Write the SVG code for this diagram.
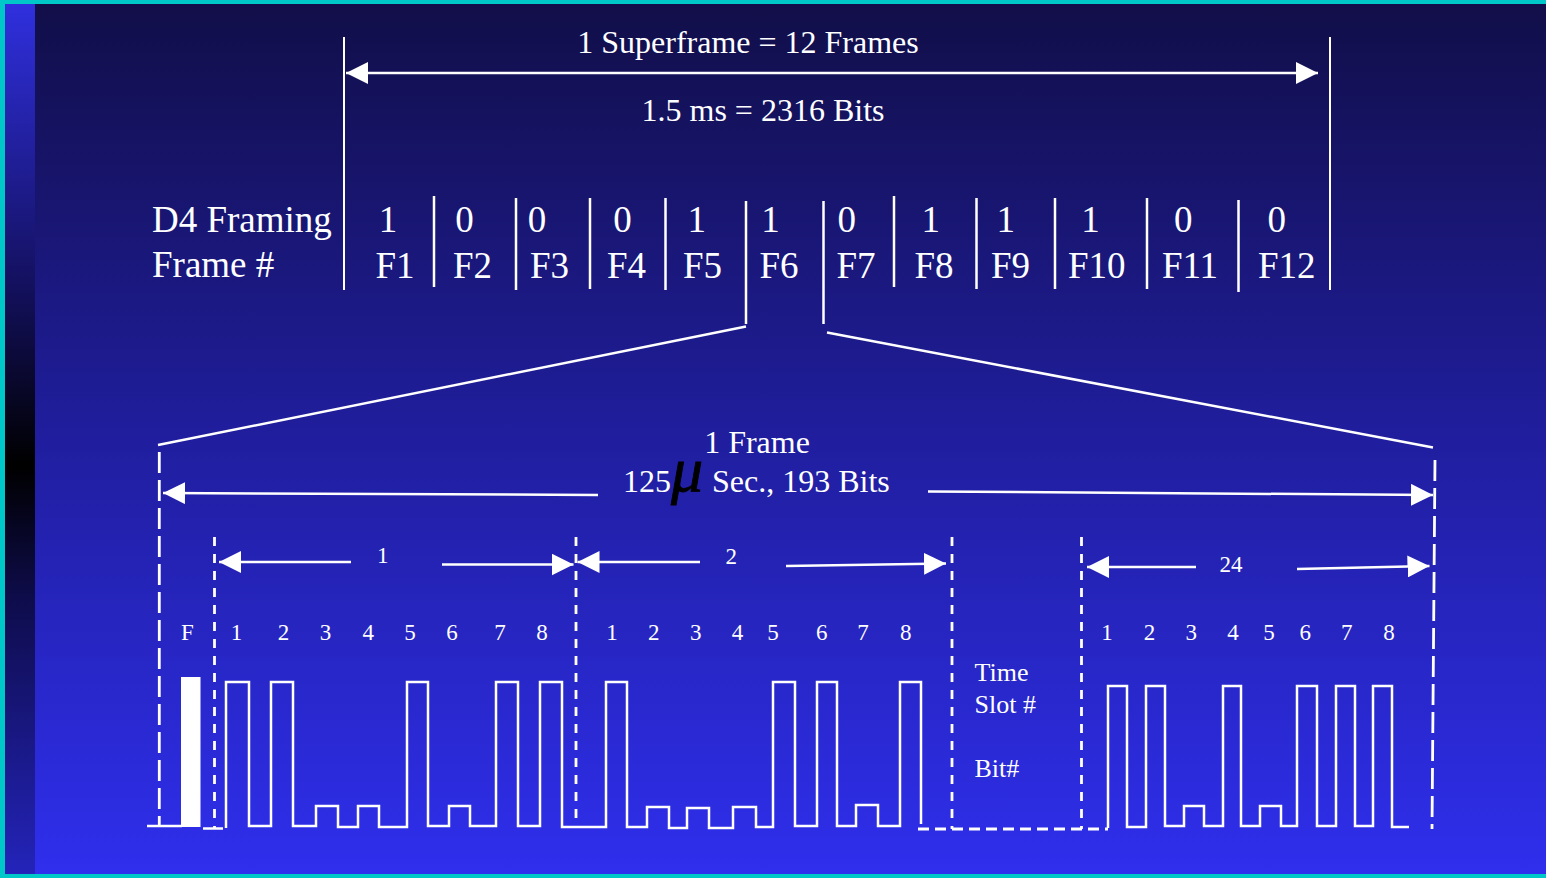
<svg xmlns="http://www.w3.org/2000/svg" width="1546" height="878" viewBox="0 0 1546 878">
<defs>
<linearGradient id="bg" x1="0" y1="0" x2="0" y2="1">
<stop offset="0" stop-color="#110e48"/>
<stop offset="0.5" stop-color="#201e9e"/>
<stop offset="1" stop-color="#2f2fee"/>
</linearGradient>
<linearGradient id="strip" x1="0" y1="0" x2="0" y2="1">
<stop offset="0" stop-color="#3030e0"/>
<stop offset="0.33" stop-color="#13105c"/>
<stop offset="0.53" stop-color="#000000"/>
<stop offset="0.68" stop-color="#0e0c4a"/>
<stop offset="1" stop-color="#2424bc"/>
</linearGradient>
<marker id="ah" viewBox="0 0 22 22" markerWidth="22" markerHeight="22" markerUnits="userSpaceOnUse" refX="22" refY="11" orient="auto-start-reverse">
<path d="M0,0 L22,11 L0,22 z" fill="#ffffff"/>
</marker>
<style>
.t{font-family:"Liberation Serif","Times New Roman",serif;fill:#ffffff}
.big{font-size:37px}
.mid{font-size:32px}
.sm{font-size:23px}
.lb{font-size:26px}
.ln{stroke:#ffffff;stroke-width:2.5;fill:none}
.thin{stroke:#ffffff;stroke-width:2;fill:none}
.ar{stroke:#ffffff;stroke-width:2.5;fill:none}
.wave{stroke:#ffffff;stroke-width:2.5;fill:none;stroke-linejoin:miter}
.long{stroke:#ffffff;stroke-width:2.8;fill:none;stroke-dasharray:21 7}
.short{stroke:#ffffff;stroke-width:2.8;fill:none;stroke-dasharray:9 8}
.hd{stroke:#ffffff;stroke-width:2.8;fill:none;stroke-dasharray:11 6}
</style>
</defs>

<g id="background">
<rect x="0" y="0" width="1546" height="878" fill="url(#bg)"/>
<rect x="5" y="0" width="30" height="878" fill="url(#strip)"/>
<rect x="0" y="0" width="1546" height="4" fill="#00c8c8"/>
<rect x="0" y="0" width="5" height="878" fill="#00c8c8"/>
<rect x="0" y="874" width="1546" height="4" fill="#00c8c8"/>
</g>

<g id="superframe-header">
<line class="thin" x1="344" y1="37" x2="344" y2="290"/>
<line class="thin" x1="1330" y1="37" x2="1330" y2="290"/>
<text class="t mid" x="748" y="53" text-anchor="middle">1 Superframe = 12 Frames</text>
<text class="t mid" x="763" y="121" text-anchor="middle">1.5 ms = 2316 Bits</text>
</g>

<g id="framing-table">
<text class="t big" x="152" y="232">D4 Framing</text>
<text class="t big" x="152" y="277">Frame #</text>
<g class="t big" text-anchor="middle">
<text x="388" y="232">1</text><text x="395" y="278">F1</text>
<text x="464.5" y="232">0</text><text x="472.6" y="278">F2</text>
<text x="537" y="232">0</text><text x="549.6" y="278">F3</text>
<text x="622.5" y="232">0</text><text x="626.6" y="278">F4</text>
<text x="696.7" y="232">1</text><text x="702.5" y="278">F5</text>
<text x="770.6" y="232">1</text><text x="779" y="278">F6</text>
<text x="846.7" y="232">0</text><text x="856" y="278">F7</text>
<text x="930.8" y="232">1</text><text x="934" y="278">F8</text>
<text x="1005.8" y="232">1</text><text x="1010.5" y="278">F9</text>
<text x="1090.5" y="232">1</text><text x="1096.7" y="278">F10</text>
<text x="1183.3" y="232">0</text><text x="1190" y="278">F11</text>
<text x="1276.7" y="232">0</text><text x="1286.7" y="278">F12</text>
</g>
<g class="ln">
<line x1="434" y1="196" x2="434" y2="287"/>
<line x1="516" y1="198" x2="516" y2="290"/>
<line x1="590" y1="198" x2="590" y2="289"/>
<line x1="665.5" y1="198" x2="665.5" y2="290"/>
<line x1="746" y1="201" x2="746" y2="324"/>
<line x1="823.5" y1="201" x2="823.5" y2="324"/>
<line x1="894" y1="196" x2="894" y2="287"/>
<line x1="976.5" y1="198" x2="976.5" y2="289"/>
<line x1="1055" y1="198" x2="1055" y2="289"/>
<line x1="1147" y1="198" x2="1147" y2="289"/>
<line x1="1238.5" y1="200" x2="1238.5" y2="292"/>
</g>
</g>

<g id="frame-detail">
<text class="t mid" x="757" y="453" text-anchor="middle">1 Frame</text>
<text class="t mid" x="623" y="492">125</text>
<text x="671" y="491" font-family="'Liberation Serif','Times New Roman',serif" font-style="italic" font-size="64" fill="#000000" stroke="#000000" stroke-width="0.8">μ</text>
<text class="t mid" x="712" y="492">Sec., 193 Bits</text>
<line class="long" x1="159.3" y1="452" x2="159.3" y2="827"/>
<line class="long" x1="1435" y1="460" x2="1432" y2="829"/>
<line class="short" x1="214.5" y1="537" x2="214.5" y2="828"/>
<line class="short" x1="576" y1="537" x2="576" y2="828"/>
<line class="short" x1="952" y1="537" x2="952" y2="829"/>
<line class="short" x1="1081.5" y1="537" x2="1081.5" y2="829"/>
<line class="hd" x1="918" y1="829" x2="1108" y2="829"/>
</g>

<g id="slot-labels">
<g class="t sm" text-anchor="middle">
<text x="382.7" y="563">1</text>
<text x="731.3" y="564">2</text>
<text x="1231" y="572">24</text>
<text x="187.5" y="640">F</text>
<text x="236.5" y="640">1</text><text x="283.5" y="640">2</text><text x="325.5" y="640">3</text><text x="368.3" y="640">4</text>
<text x="410" y="640">5</text><text x="452" y="640">6</text><text x="500" y="640">7</text><text x="542" y="640">8</text>
<text x="612" y="640">1</text><text x="653.7" y="640">2</text><text x="695.7" y="640">3</text><text x="737.5" y="640">4</text>
<text x="773" y="640">5</text><text x="821.7" y="640">6</text><text x="863" y="640">7</text><text x="905.7" y="640">8</text>
<text x="1107" y="640">1</text><text x="1149.5" y="640">2</text><text x="1191.3" y="640">3</text><text x="1233" y="640">4</text>
<text x="1269" y="640">5</text><text x="1305.3" y="640">6</text><text x="1346.7" y="640">7</text><text x="1389" y="640">8</text>
</g>
<g class="t lb">
<text x="974.5" y="681">Time</text>
<text x="974.5" y="713">Slot #</text>
<text x="974.5" y="777">Bit#</text>
</g>
</g>

<g id="waveform">
<line class="wave" x1="147" y1="826" x2="182" y2="826"/>
<rect x="181" y="677" width="19.5" height="150" fill="#ffffff"/>
<line class="wave" x1="203" y1="828.5" x2="223" y2="828.5"/>
<path class="wave" d="M226,828 V682 H249 V826 H271 V682 H293 V826 H316 V806 H338 V827 H358 V806 H379 V827 H407 V682 H428 V826 H449 V806 H470 V826 H496 V682 H518 V826 H540 V682 H562 V827 H606 V682 H627 V827 H647 V807 H669 V828 H687 V808 H709 V828 H733 V807 H756 V827 H773 V682 H795 V826 H817 V682 H837 V826 H856 V805 H878 V826 H900 V682 H921 V824"/>
<path class="wave" d="M1108,828 V686 H1127 V827 H1146 V686 H1165 V826 H1184 V806 H1204 V826 H1223 V686 H1241 V826 H1260 V806 H1281 V826 H1297 V686 H1317 V826 H1336 V686 H1355 V826 H1373 V686 H1392 V827 H1409"/>
</g>

<g id="connectors">
<line class="ar" x1="346" y1="73" x2="1318" y2="73" marker-start="url(#ah)" marker-end="url(#ah)"/>
<line class="ln" x1="746" y1="326.5" x2="158" y2="445"/>
<line class="ln" x1="827" y1="332.5" x2="1433" y2="447.5"/>
<line class="ar" x1="163" y1="493" x2="598" y2="495" marker-start="url(#ah)"/>
<line class="ar" x1="928" y1="491.5" x2="1433" y2="495" marker-end="url(#ah)"/>
<line class="ar" x1="219" y1="562" x2="351" y2="562" marker-start="url(#ah)"/>
<line class="ar" x1="442" y1="564.5" x2="573.5" y2="564.5" marker-end="url(#ah)"/>
<line class="ar" x1="577.5" y1="562" x2="700" y2="562" marker-start="url(#ah)"/>
<line class="ar" x1="786" y1="566" x2="946" y2="563.5" marker-end="url(#ah)"/>
<line class="ar" x1="1087" y1="567" x2="1196" y2="567" marker-start="url(#ah)"/>
<line class="ar" x1="1297" y1="569" x2="1429.5" y2="566" marker-end="url(#ah)"/>
</g>
</svg>
